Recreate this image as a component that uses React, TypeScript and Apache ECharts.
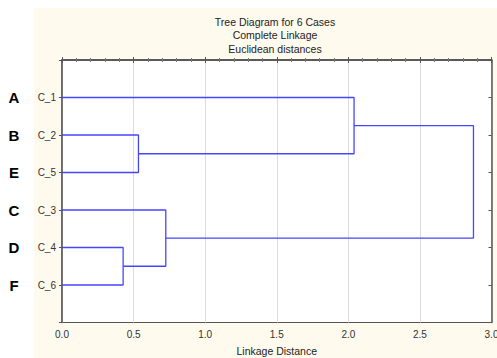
import React, { useEffect, useRef } from "react";
import * as echarts from "echarts";

const titleLines = ["Tree Diagram for 6 Cases", "Complete Linkage", "Euclidean distances"];
const xAxisTitle = "Linkage Distance";
const leafLabels = ["C_1", "C_2", "C_5", "C_3", "C_4", "C_6"];
const leafLetters = ["A", "B", "E", "C", "D", "F"];
// merges: clusters numbered after leaves (6, 7, 8, ...)
const mergeLeft = [1, 4, 3, 0, 9];
const mergeRight = [2, 5, 7, 6, 8];
const mergeHeight = [0.534, 0.427, 0.725, 2.04, 2.874];
const xTicks = [0, 0.5, 1.0, 1.5, 2.0, 2.5, 3.0];

const LINE_COLOR = "#4646ff";

function buildSegments() {
  const n = leafLabels.length;
  const pos: { x: number; y: number }[] = leafLabels.map((_, i) => ({ x: 0, y: i + 1 }));
  const segs: number[][][] = [];
  mergeHeight.forEach((h, k) => {
    const a = pos[mergeLeft[k]];
    const b = pos[mergeRight[k]];
    segs.push([
      [a.x, a.y],
      [h, a.y],
      [h, b.y],
      [b.x, b.y],
    ]);
    pos[n + k] = { x: h, y: (a.y + b.y) / 2 };
  });
  return segs;
}

export default function App() {
  const ref = useRef<HTMLDivElement>(null);
  useEffect(() => {
    if (!ref.current) return;
    const chart = echarts.init(ref.current, undefined, { renderer: "svg" });
    const segs = buildSegments();
    const font = "Arial, 'Liberation Sans', sans-serif";
    const yLabel = (v: number) => {
      const i = Math.round(v) - 1;
      return Math.abs(v - Math.round(v)) < 1e-6 && i >= 0 && i < leafLabels.length ? leafLabels[i] : "";
    };
    const yLetter = (v: number) => {
      const i = Math.round(v) - 1;
      return Math.abs(v - Math.round(v)) < 1e-6 && i >= 0 && i < leafLetters.length ? leafLetters[i] : "";
    };
    chart.setOption({
      animation: false,
      backgroundColor: "#ffffff",
      textStyle: { fontFamily: font },
      graphic: [
        {
          type: "rect",
          z: -10,
          silent: true,
          shape: { x: 34, y: 8, width: 463, height: 350 },
          style: { fill: "#fffaee" },
        },
      ],
      title: {
        text: titleLines.join("\n"),
        left: 270,
        top: 10,
        textAlign: "center",
        textStyle: { fontSize: 10.5, fontWeight: "normal", color: "#222", lineHeight: 13.5, fontFamily: font },
      },
      grid: {
        left: 62,
        top: 60,
        right: 5.5,
        bottom: 35.5,
        show: true,
        backgroundColor: "#ffffff",
        borderColor: "#555",
        borderWidth: 1,
        containLabel: false,
        outerBoundsMode: "none",
      },
      xAxis: [
        {
          type: "value",
          position: "bottom",
          min: 0,
          max: 3,
          interval: 0.5,
          name: xAxisTitle,
          nameLocation: "middle",
          nameGap: 23,
          nameTextStyle: { fontSize: 10.5, color: "#222", fontFamily: font },
          axisLine: { show: true, lineStyle: { color: "#555", width: 1.5 } },
          axisTick: { show: true, inside: true, length: 3, lineStyle: { color: "#555" } },
          minorTick: { show: true, splitNumber: 5, length: 2, lineStyle: { color: "#777" } },
          axisLabel: {
            fontSize: 10,
            color: "#333",
            margin: 7,
            formatter: (v: number) => (xTicks.includes(v) ? v.toFixed(1) : ""),
          },
          splitLine: { show: true, lineStyle: { color: "#dcdcdc", width: 1 } },
        },
        {
          type: "value",
          position: "top",
          min: 0,
          max: 3,
          interval: 0.5,
          axisLine: { show: true, lineStyle: { color: "#555", width: 1.5 } },
          axisTick: { show: true, inside: true, length: 3, lineStyle: { color: "#555" } },
          minorTick: { show: true, splitNumber: 5, length: 2, lineStyle: { color: "#777" } },
          axisLabel: { show: false },
          splitLine: { show: false },
        },
      ],
      yAxis: [
        {
          type: "value",
          position: "left",
          inverse: true,
          min: 0,
          max: 7,
          interval: 1,
          axisLine: { show: true, lineStyle: { color: "#555", width: 1.5 } },
          axisTick: { show: true, inside: false, length: 3, lineStyle: { color: "#555" } },
          axisLabel: { fontSize: 10, color: "#333", margin: 6, formatter: yLabel },
          splitLine: { show: false },
        },
        {
          type: "value",
          position: "left",
          inverse: true,
          offset: 40,
          min: 0,
          max: 7,
          interval: 1,
          axisLine: { show: false },
          axisTick: { show: false },
          axisLabel: {
            fontSize: 15,
            fontWeight: "bold",
            color: "#000",
            align: "center",
            margin: 8,
            formatter: yLetter,
          },
          splitLine: { show: false },
        },
        {
          type: "value",
          position: "right",
          inverse: true,
          min: 0,
          max: 7,
          interval: 1,
          axisLine: { show: true, lineStyle: { color: "#555", width: 1.5 } },
          axisTick: { show: true, inside: true, length: 3, lineStyle: { color: "#555" } },
          axisLabel: { show: false },
          splitLine: { show: false },
        },
      ],
      series: segs.map((s) => ({
        type: "line",
        xAxisIndex: 0,
        yAxisIndex: 0,
        data: s,
        showSymbol: false,
        symbol: "none",
        lineStyle: { color: LINE_COLOR, width: 1.3 },
        silent: true,
      })),
    });
    return () => chart.dispose();
  }, []);
  return (
    <div
      ref={ref}
      style={{ position: "absolute", left: 0, top: 0, width: 497, height: 358 }}
    />
  );
}
